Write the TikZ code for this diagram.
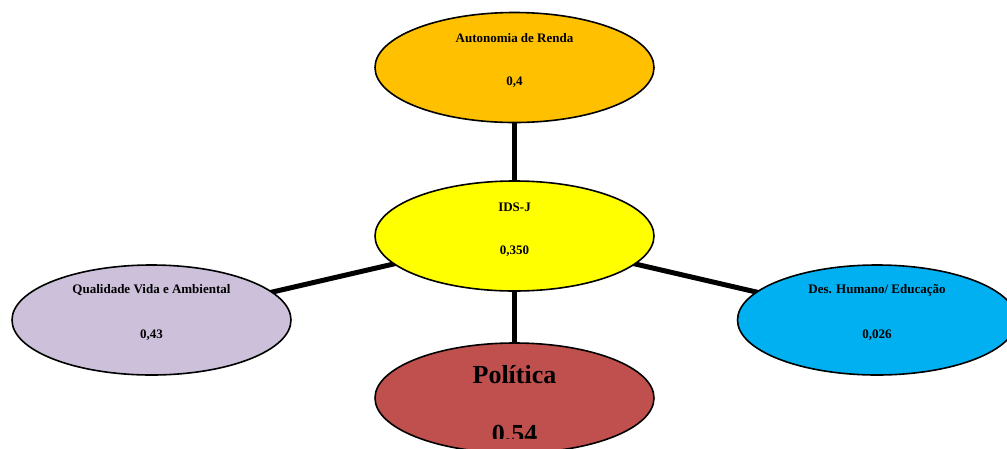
\documentclass[tikz,border=0pt]{standalone}
\usepackage{fontspec}
\setmainfont{Liberation Serif}
\usetikzlibrary{shapes.geometric,backgrounds}
\definecolor{renda}{HTML}{FFC000}
\definecolor{idsj}{HTML}{FFFF00}
\definecolor{qualidade}{HTML}{CCC0DA}
\definecolor{educacao}{HTML}{00B0F0}
\definecolor{politica}{HTML}{C0504D}
\begin{document}
\begin{tikzpicture}[x=1pt,y=-1pt]
    \tikzset{eixo/.style={ellipse, draw, line width=1.6pt, minimum width=279pt, minimum height=110pt, inner sep=0pt}}
    \tikzset{rotulo/.style={font=\bfseries\fontsize{13}{15}\selectfont, inner sep=0pt}}
    \tikzset{grande/.style={font=\bfseries\fontsize{26}{30}\selectfont, inner sep=0pt}}
    \tikzset{ligacao/.style={line width=5pt}}
    \useasboundingbox (0,0) rectangle (1007,448);
    \clip (0,0) rectangle (1007,448);
    % eixos
    \node[eixo, fill=renda] (renda) at (514.5,67.5) {};
    \node[eixo, fill=idsj] (ids) at (514.5,236) {};
    \node[eixo, fill=qualidade] (qual) at (151.5,320) {};
    \node[eixo, fill=educacao] (edu) at (877,320) {};
    \node[eixo, fill=politica] (pol) at (514.5,398) {};
    % textos
    \node[rotulo] (rendaT) at (514.5,38) {Autonomia de Renda};
    \node[rotulo] (rendaV) at (514.5,82) {0,4};
    \node[rotulo] (idsT) at (514.5,207) {IDS-J};
    \node[rotulo] (idsV) at (514.5,251) {0,350};
    \node[rotulo] (qualT) at (151.5,290) {Qualidade Vida e Ambiental};
    \node[rotulo] (qualV) at (151.5,335) {0,43};
    \node[rotulo] (eduT) at (877,290) {Des. Humano/ Educação};
    \node[rotulo] (eduV) at (877,335) {0,026};
    \node[grande] (polT) at (514.5,375) {Política};
    \begin{scope}
        \clip (0,0) rectangle (1007,438);
        \node[grande] (polV) at (514.5,436) {0,54};
    \end{scope}
    % ligacoes
    \begin{scope}[on background layer]
        \draw[ligacao] (ids.center) -- (renda.center);
        \draw[ligacao] (ids.center) -- (qual.center);
        \draw[ligacao] (ids.center) -- (edu.center);
        \draw[ligacao] (ids.center) -- (pol.center);
    \end{scope}
\end{tikzpicture}
\end{document}
